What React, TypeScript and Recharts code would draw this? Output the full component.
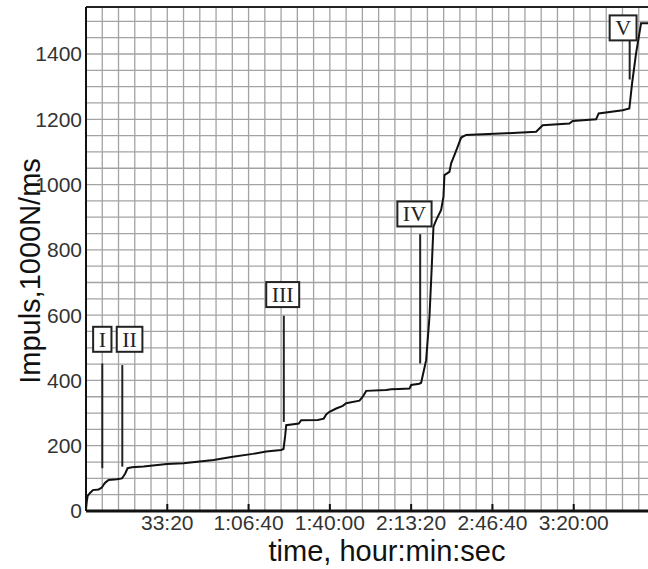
import React from "react"
import { LineChart, Line, XAxis, YAxis, ReferenceLine, ReferenceDot, Label } from "recharts"

// elapsed time in seconds and cumulative impulse (x1000 N/ms)
const times = [
  0, 20, 40, 105, 170, 310, 390, 440, 475, 556, 760, 885, 930, 965, 1023,
  1130, 1417, 1990, 2400, 3140, 3613, 4105, 4434, 4803, 4860, 4900, 4926, 5236, 5295, 5703,
  5850, 5910, 5991, 6156, 6318, 6402, 6729, 6810, 6894, 7386, 7508, 7713, 7960, 8000, 8200,
  8246, 8369, 8451, 8507, 8549, 8615, 8738, 8795, 8819, 8942, 8984, 9065, 9146, 9230, 9353,
  9762, 10337, 11075, 11237, 11893, 11975, 12550, 12614, 13205, 13369, 13436, 13534, 13616, 13657, 14000,
]
const impulse = [
  5, 30, 46, 56, 64, 66, 72, 82, 87, 95, 97, 100, 108, 115, 131,
  134, 136, 144, 146, 156, 166, 175, 182, 187, 190, 230, 263, 268, 278, 279,
  283, 296, 304, 314, 322, 330, 338, 350, 368, 371, 373, 374, 375, 386, 390,
  393, 462, 595, 748, 871, 891, 922, 963, 1029, 1039, 1065, 1090, 1116, 1144, 1152,
  1154, 1157, 1162, 1182, 1187, 1195, 1200, 1218, 1228, 1233, 1310, 1402, 1463, 1494, 1494,
]

const xTicks = [2000, 4000, 6000, 8000, 10000, 12000]
const yTicks = [0, 200, 400, 600, 800, 1000, 1200, 1400]

// event markers (roman numerals)
const markNames = ["I", "II", "III", "IV", "V"]
const markLineTime = [401, 893, 4867, 8222, 13377]
const markLineLow = [131, 136, 273, 452, 1322]
const markLineHigh = [452, 447, 598, 848, 1440]
const markBoxTime = [401, 1072, 4840, 8082, 13215]
const markBoxValue = [526, 526, 663, 910, 1480]

const X_MAX = 14000
const Y_MAX = 1544

const data = times.map((t, i) => ({ t, v: impulse[i] }))

// fine grid: every 400 s and every 50 units
const gridX: number[] = []
for (let t = 400; t < X_MAX; t += 400) gridX.push(t)
const gridY: number[] = []
for (let v = 50; v <= 1500; v += 50) gridY.push(v)

const sans = "'Liberation Sans', Arial, sans-serif"
const serif = "'Liberation Serif', 'Times New Roman', serif"

function fmtTime(sec: number): string {
  const h = Math.floor(sec / 3600)
  const m = Math.floor((sec % 3600) / 60)
  const s = sec % 60
  const p = (n: number) => String(n).padStart(2, "0")
  return h > 0 ? `${h}:${p(m)}:${p(s)}` : `${m}:${p(s)}`
}

function TimeTick(props: any) {
  const { x, y, payload } = props
  return (
    <g>
      <line x1={x} y1={y} x2={x} y2={y - 7} stroke="#111" strokeWidth={2} />
      <text x={x} y={y + 19} textAnchor="middle" fontSize={21} fill="#333" fontFamily={sans}>
        {fmtTime(payload.value)}
      </text>
    </g>
  )
}

function MarkBox({ cx, cy, name }: { cx: number; cy: number; name: string }) {
  const em = name.split("").reduce((a, c) => a + (c === "V" ? 0.722 : 0.333), 0)
  const w = em * 22 + 11
  const h = 25
  return (
    <g>
      <rect x={cx - w / 2} y={cy - h / 2} width={w} height={h} fill="#fff" stroke="#222" strokeWidth={2} />
      <text x={cx} y={cy + 7.5} textAnchor="middle" fontSize={22} fill="#222" fontFamily={serif}>
        {name}
      </text>
    </g>
  )
}

export default function App() {
  return (
    <div style={{ position: "absolute", left: 0, top: 0, width: 648, height: 569, overflow: "hidden", background: "#fff" }}>
      <LineChart width={660} height={569} data={data} margin={{ top: 7, right: 5, bottom: 0, left: 0 }}>
        <XAxis
          dataKey="t"
          type="number"
          domain={[0, X_MAX]}
          ticks={xTicks}
          allowDataOverflow
          height={58}
          tickSize={0}
          tickMargin={0}
          tick={<TimeTick />}
          axisLine={{ stroke: "#111", strokeWidth: 3 }}
        >
          <Label
            content={(p: any) => (
              <text x={p.viewBox.x + 301} y={p.viewBox.y + 50} textAnchor="middle" fontSize={29} fill="#111" fontFamily={sans}>
                time, hour:min:sec
              </text>
            )}
          />
        </XAxis>
        <YAxis
          type="number"
          domain={[0, Y_MAX]}
          ticks={yTicks}
          allowDataOverflow
          width={86}
          tickLine={false}
          tickSize={0}
          tickMargin={4}
          tick={{ fontSize: 21, fill: "#333", fontFamily: sans }}
          axisLine={{ stroke: "#111", strokeWidth: 2 }}
        >
          <Label
            content={(p: any) => {
              const cx = p.viewBox.x + 30
              const cy = p.viewBox.y + 264
              return (
                <text
                  x={cx}
                  y={cy}
                  transform={`rotate(-90 ${cx} ${cy})`}
                  textAnchor="middle"
                  dominantBaseline="central"
                  fontSize={29}
                  fill="#111"
                  fontFamily={sans}
                >
                  Impuls,1000N/ms
                </text>
              )
            }}
          />
        </YAxis>
        {gridX.map((t) => (
          <ReferenceLine key={"gx" + t} x={t} stroke="#a3a3a3" strokeWidth={1.3} />
        ))}
        {gridY.map((v) => (
          <ReferenceLine key={"gy" + v} y={v} stroke="#a3a3a3" strokeWidth={1.3} />
        ))}
        <ReferenceLine y={Y_MAX} stroke="#222" strokeWidth={2} />
        {markNames.map((n, i) => (
          <ReferenceLine
            key={"l" + n}
            segment={[{ x: markLineTime[i], y: markLineLow[i] }, { x: markLineTime[i], y: markLineHigh[i] }]}
            stroke="#222"
            strokeWidth={2}
          />
        ))}
        <Line type="linear" dataKey="v" stroke="#111" strokeWidth={2} dot={false} isAnimationActive={false} />
        {markNames.map((n, i) => (
          <ReferenceDot
            key={"b" + n}
            x={markBoxTime[i]}
            y={markBoxValue[i]}
            r={0}
            shape={(p: any) => <MarkBox cx={p.cx} cy={p.cy} name={n} />}
          />
        ))}
      </LineChart>
    </div>
  )
}
